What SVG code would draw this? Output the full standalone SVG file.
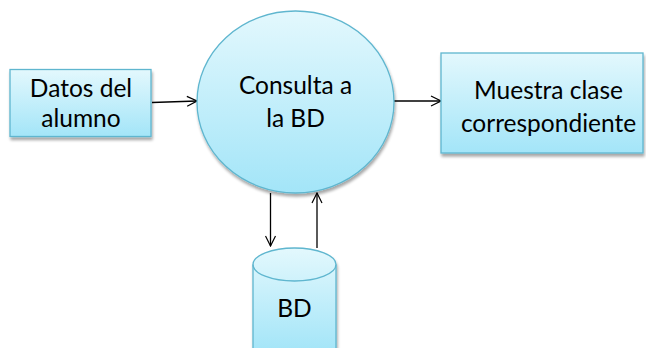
<svg xmlns="http://www.w3.org/2000/svg" width="646" height="348" viewBox="0 0 646 348">
<defs>
<linearGradient id="g" x1="0" y1="0" x2="0" y2="1">
<stop offset="0" stop-color="#e3f8fd"/>
<stop offset="1" stop-color="#a3e5f8"/>
</linearGradient>
<filter id="sh" x="-10%" y="-10%" width="130%" height="130%">
<feGaussianBlur in="SourceAlpha" stdDeviation="1.5"/>
<feOffset dx="1" dy="2.5" result="b"/>
<feComponentTransfer><feFuncA type="linear" slope="0.35"/></feComponentTransfer>
<feMerge><feMergeNode/><feMergeNode in="SourceGraphic"/></feMerge>
</filter>
<marker id="arr" viewBox="0 0 12 12" refX="11" refY="6" markerWidth="12" markerHeight="12" markerUnits="userSpaceOnUse" orient="auto">
<path d="M1,1 L11,6 L1,11" fill="none" stroke="#000" stroke-width="1.2"/>
</marker>
<style>
.n{fill:url(#g);stroke:#5fb6cf;stroke-width:1.3;filter:url(#sh)}
.t{font-family:Lato,"Open Sans",sans-serif;font-size:24.5px;fill:#000;text-anchor:middle}
.c{fill:none;stroke:#000;stroke-width:1.3;marker-end:url(#arr)}
</style>
</defs>
<g id="connectors">
<line class="c" x1="152" y1="102.5" x2="197" y2="101"/>
<line class="c" x1="394" y1="101" x2="441" y2="101"/>
<line class="c" x1="270.5" y1="193" x2="270.5" y2="246"/>
<line class="c" x1="317" y1="248" x2="317" y2="193"/>
</g>
<g id="datos">
<rect class="n" x="10" y="69.5" width="141" height="67"/>
<text class="t" x="81" y="97">Datos del</text>
<text class="t" x="81" y="127">alumno</text>
</g>
<g id="consulta">
<ellipse class="n" cx="295.5" cy="102" rx="98.5" ry="91"/>
<text class="t" x="295.5" y="94">Consulta a</text>
<text class="t" x="295.5" y="127">la BD</text>
</g>
<g id="muestra">
<rect class="n" x="441" y="53" width="202" height="100"/>
<text class="t" x="548.5" y="99">Muestra clase</text>
<text class="t" x="548.5" y="132">correspondiente</text>
</g>
<g id="bd">
<path class="n" d="M253,264.5 A41.5,16.5 0 0 1 336,264.5 L336,352 L253,352 Z"/>
<path d="M253,264.5 A41.5,16.5 0 0 0 336,264.5" fill="none" stroke="#5fb6cf" stroke-width="1.3"/>
<text class="t" x="294.5" y="317">BD</text>
</g>
</svg>
